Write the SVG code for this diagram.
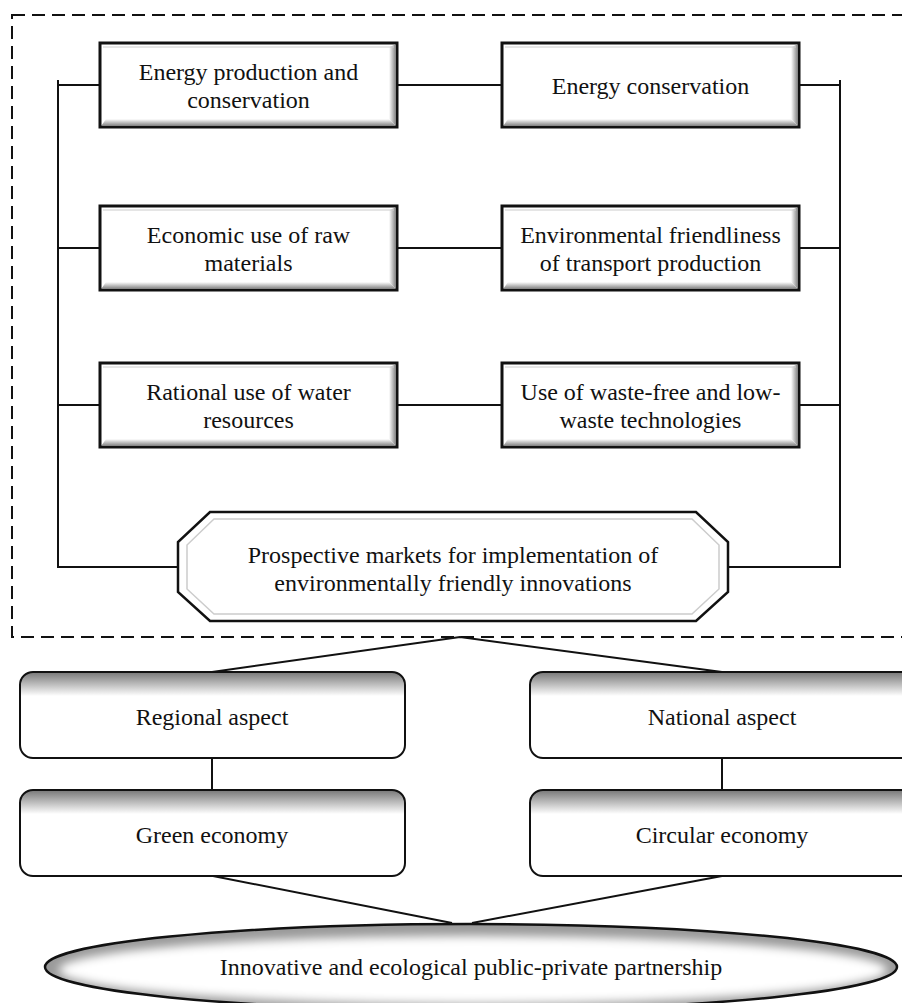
<svg xmlns="http://www.w3.org/2000/svg" width="902" height="1003" viewBox="0 0 902 1003">
<style>
text{font-family:"Liberation Serif","Times New Roman",serif;font-size:24px;fill:#111;text-anchor:middle}
.bx{fill:#fff;stroke:#111;stroke-width:3}
.rb{fill:url(#topShade);stroke:#111;stroke-width:2}
.ln{stroke:#111;stroke-width:2;fill:none}
</style>
<defs>
<linearGradient id="bevR" x1="0" y1="0" x2="1" y2="0"><stop offset="0" stop-color="#fff"/><stop offset="1" stop-color="#888"/></linearGradient>
<linearGradient id="bevB" x1="0" y1="0" x2="0" y2="1"><stop offset="0" stop-color="#fff"/><stop offset="1" stop-color="#888"/></linearGradient>
<linearGradient id="topShade" x1="0" y1="0" x2="0" y2="1"><stop offset="0" stop-color="#777"/><stop offset="0.28" stop-color="#fff"/><stop offset="1" stop-color="#fff"/></linearGradient>
<filter id="soft" x="-5%" y="-30%" width="110%" height="160%"><feGaussianBlur stdDeviation="5"/></filter>
<clipPath id="ellClip"><ellipse cx="471" cy="967" rx="426" ry="43"/></clipPath>
<g id="bevel">
<rect x="0" y="0" width="297" height="84" class="bx"/>
<polygon points="289,4 295.5,1.5 295.5,82.5 289,76" fill="url(#bevR)"/>
<polygon points="6,76 289,76 295.5,82.5 1.5,82.5" fill="url(#bevB)"/>
<line x1="3" y1="4" x2="294" y2="4" stroke="#ccc" stroke-width="1"/>
</g>
</defs>

<rect x="12" y="15" width="900" height="622" fill="none" stroke="#111" stroke-width="2" stroke-dasharray="13,7"/>

<g id="connectors" class="ln">
<line x1="58" y1="80" x2="58" y2="568"/>
<line x1="840" y1="80" x2="840" y2="568"/>
<line x1="58" y1="85" x2="100" y2="85"/>
<line x1="397" y1="85" x2="502" y2="85"/>
<line x1="798" y1="85" x2="840" y2="85"/>
<line x1="58" y1="248" x2="100" y2="248"/>
<line x1="397" y1="248" x2="502" y2="248"/>
<line x1="798" y1="248" x2="840" y2="248"/>
<line x1="58" y1="405" x2="100" y2="405"/>
<line x1="397" y1="405" x2="502" y2="405"/>
<line x1="798" y1="405" x2="840" y2="405"/>
<line x1="58" y1="567" x2="178" y2="567"/>
<line x1="728" y1="567" x2="840" y2="567"/>
<polyline points="212,672 460,637 722,672"/>
<line x1="212" y1="758" x2="212" y2="790"/>
<line x1="722" y1="758" x2="722" y2="790"/>
<line x1="213" y1="876" x2="452" y2="923"/>
<line x1="722" y1="876" x2="472" y2="923"/>
</g>

<g id="n1" transform="translate(100,43)"><use href="#bevel"/><text x="148.5" y="37">Energy production and</text><text x="148.5" y="65">conservation</text></g>
<g id="n2" transform="translate(502,43)"><use href="#bevel"/><text x="148.5" y="51">Energy conservation</text></g>
<g id="n3" transform="translate(100,206)"><use href="#bevel"/><text x="148.5" y="37">Economic use of raw</text><text x="148.5" y="65">materials</text></g>
<g id="n4" transform="translate(502,206)"><use href="#bevel"/><text x="148.5" y="37">Environmental friendliness</text><text x="148.5" y="65">of transport production</text></g>
<g id="n5" transform="translate(100,363)"><use href="#bevel"/><text x="148.5" y="37">Rational use of water</text><text x="148.5" y="65">resources</text></g>
<g id="n6" transform="translate(502,363)"><use href="#bevel"/><text x="148.5" y="37">Use of waste-free and low-</text><text x="148.5" y="65">waste technologies</text></g>

<g id="n7">
<polygon points="210,512 696,512 728,542 728,592 696,621 210,621 178,592 178,542" fill="#fff" stroke="#111" stroke-width="2.5"/>
<polygon points="214,519 692,519 719,545 719,589 692,614 214,614 187,589 187,545" fill="none" stroke="#ccc" stroke-width="1.5"/>
<text x="453" y="563">Prospective markets for implementation of</text>
<text x="453" y="591">environmentally friendly innovations</text>
</g>

<g id="n8"><rect x="20" y="672" width="385" height="86" rx="13" class="rb"/><text x="212" y="725">Regional aspect</text></g>
<g id="n9"><rect x="530" y="672" width="385" height="86" rx="13" class="rb"/><text x="722" y="725">National aspect</text></g>
<g id="n10"><rect x="20" y="790" width="385" height="86" rx="13" class="rb"/><text x="212" y="843">Green economy</text></g>
<g id="n11"><rect x="530" y="790" width="385" height="86" rx="13" class="rb"/><text x="722" y="843">Circular economy</text></g>

<g id="n12">
<g clip-path="url(#ellClip)">
<ellipse cx="471" cy="967" rx="426" ry="43" fill="#9a9a9a"/>
<ellipse cx="473" cy="970" rx="414" ry="34" fill="#fff" filter="url(#soft)"/>
</g>
<ellipse cx="471" cy="967" rx="426" ry="43" fill="none" stroke="#111" stroke-width="2.5"/>
<text x="471" y="975">Innovative and ecological public-private partnership</text>
</g>
</svg>
